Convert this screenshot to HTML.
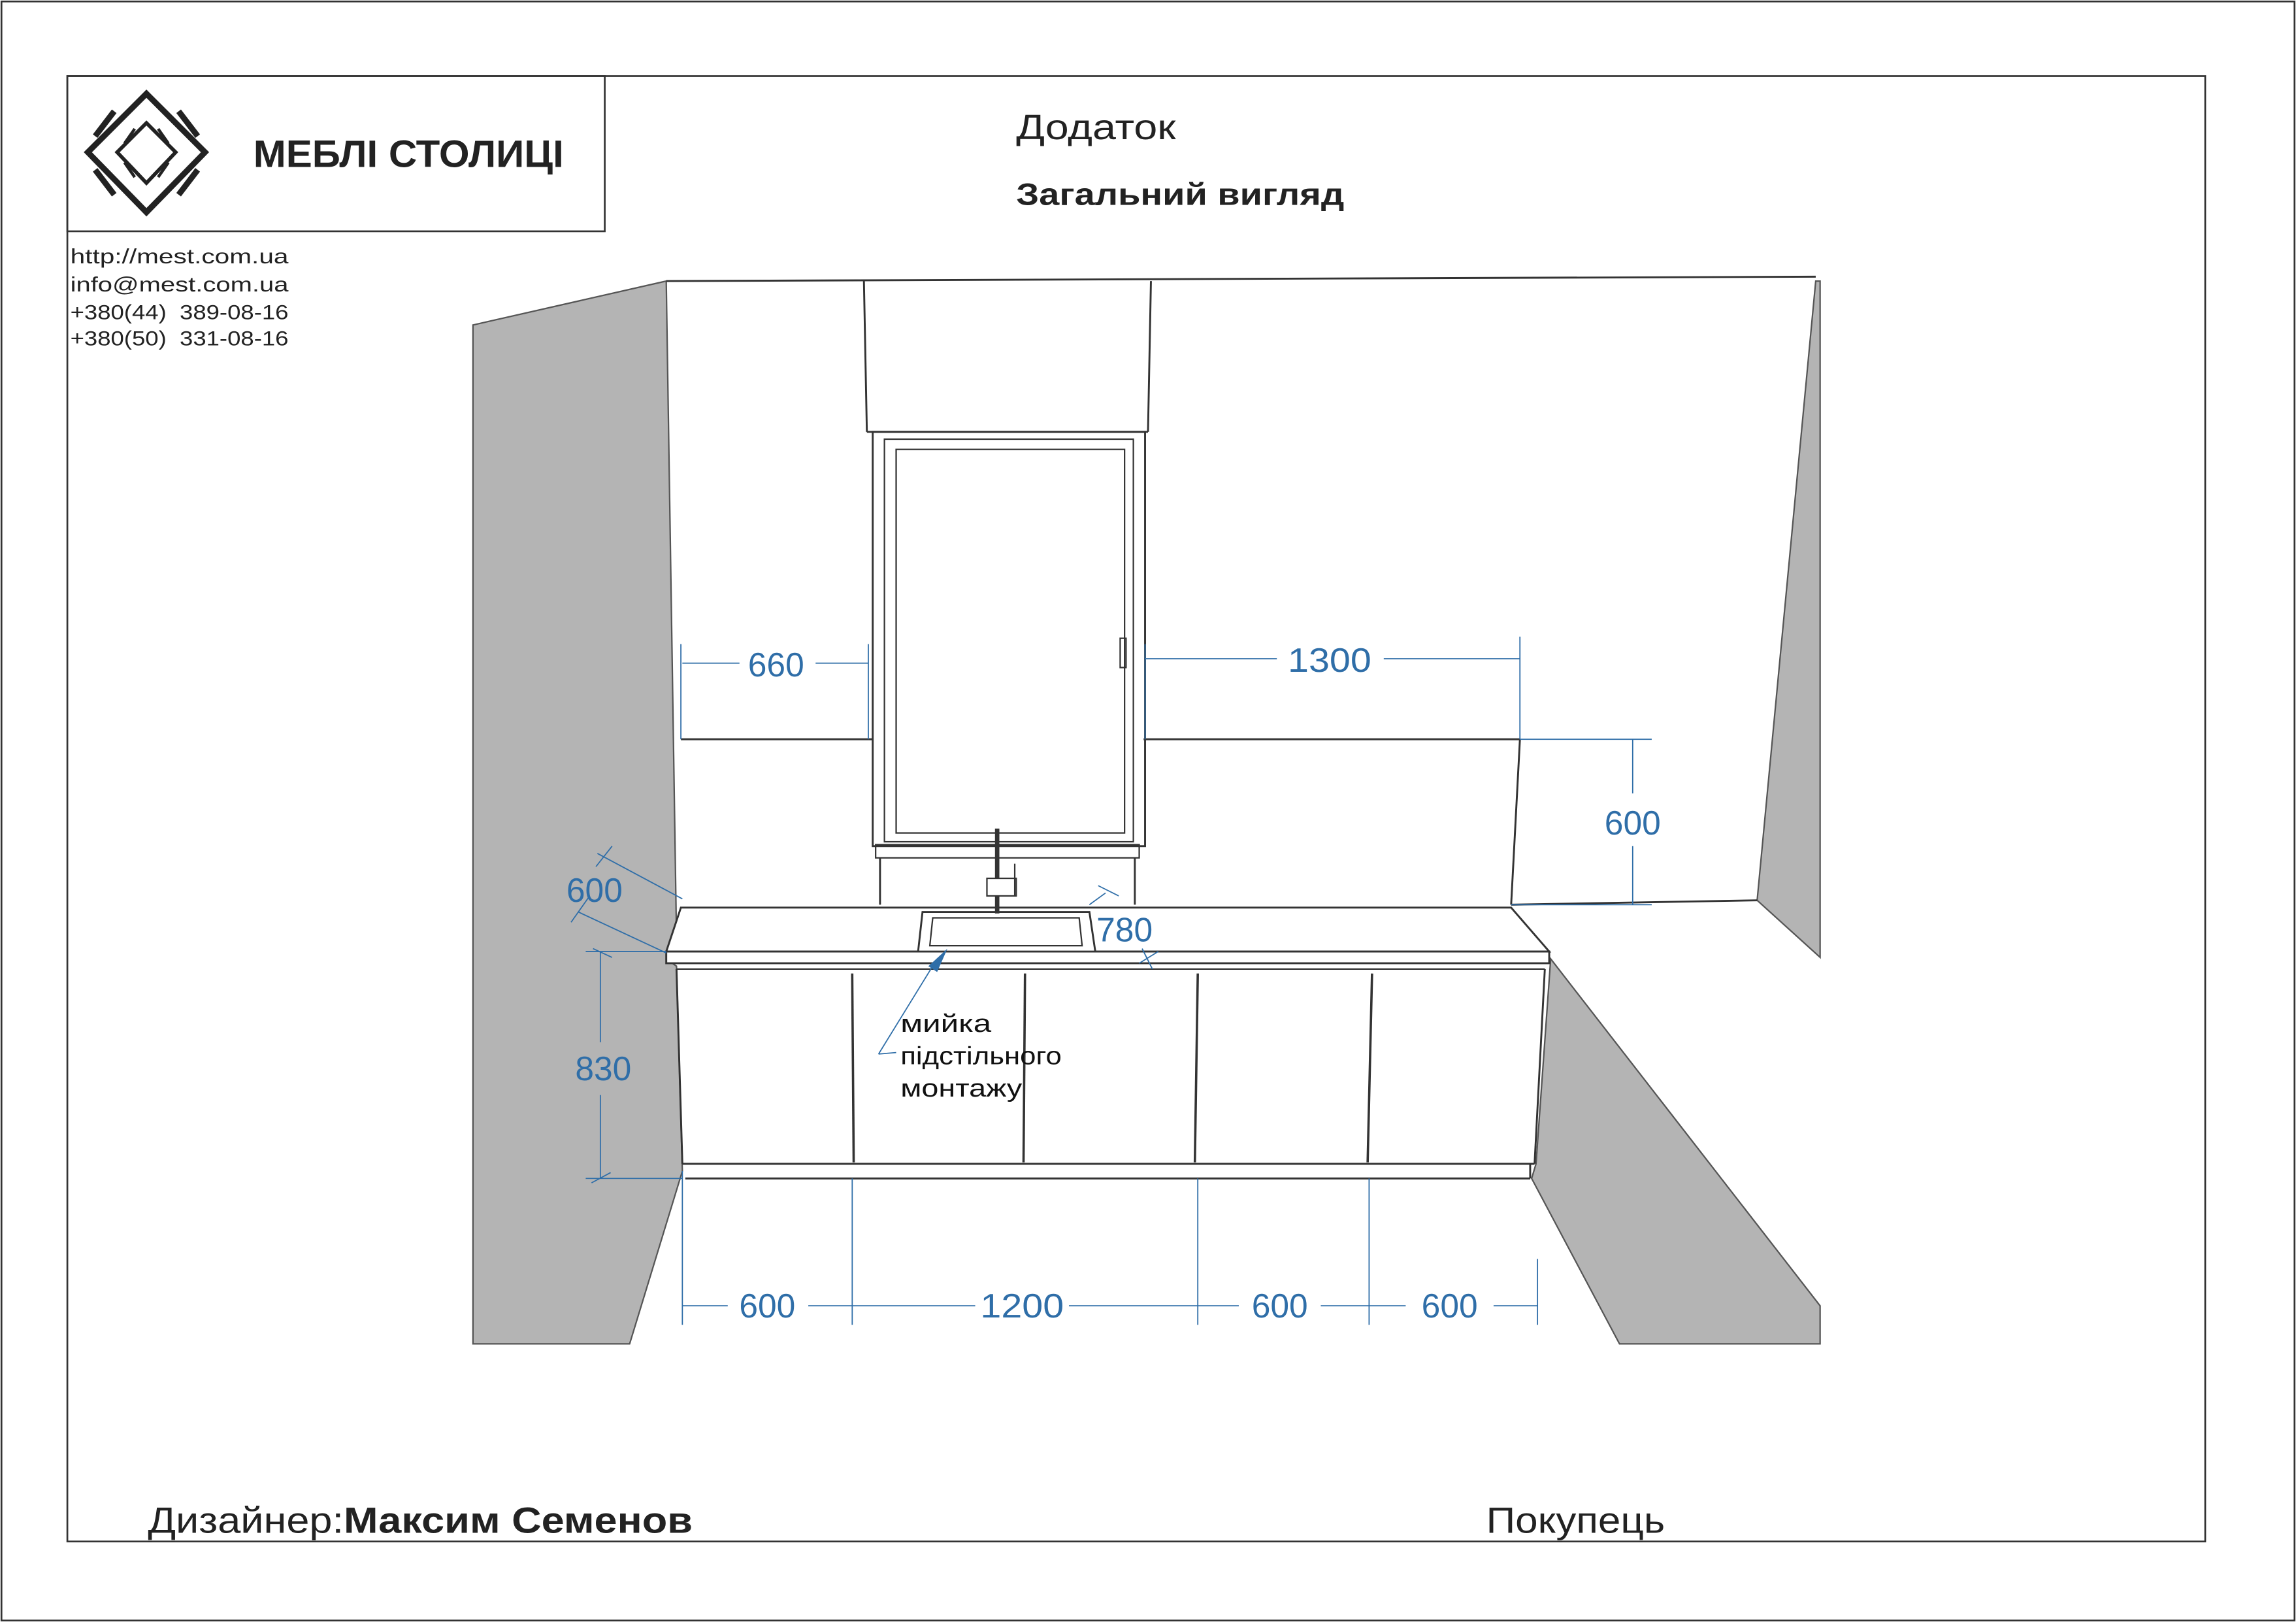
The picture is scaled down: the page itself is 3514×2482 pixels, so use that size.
<!DOCTYPE html>
<html><head><meta charset="utf-8"><style>
html,body{margin:0;padding:0;background:#fff;}
svg{display:block;}
text{font-family:"Liberation Sans","DejaVu Sans",sans-serif;}
</style></head><body>
<svg width="3514" height="2482" viewBox="0 0 1568 1108" preserveAspectRatio="none" xmlns="http://www.w3.org/2000/svg">
<rect x="0" y="0" width="1568" height="1108" fill="#fff"/>
<rect x="1" y="1" width="1566" height="1106" fill="none" stroke="#333" stroke-width="1.2"/>
<rect x="46" y="52" width="1460" height="1001" fill="none" stroke="#333" stroke-width="1.2"/>
<rect x="46" y="52" width="367" height="106" fill="none" stroke="#333" stroke-width="1.2"/>
<!-- logo -->
<g fill="none" stroke="#222">
<polygon points="100,64 140,104 100,145 60,104" stroke-width="4"/>
<polygon points="100,84 120,104 100,125 80,104" stroke-width="2.5"/>
<line x1="78" y1="76" x2="65" y2="93" stroke-width="4"/>
<line x1="122" y1="76" x2="135" y2="93" stroke-width="4"/>
<line x1="78" y1="133" x2="65" y2="116" stroke-width="4"/>
<line x1="122" y1="133" x2="135" y2="116" stroke-width="4"/>
<line x1="92" y1="88" x2="85" y2="98" stroke-width="2"/>
<line x1="108" y1="88" x2="115" y2="98" stroke-width="2"/>
<line x1="92" y1="121" x2="85" y2="111" stroke-width="2"/>
<line x1="108" y1="121" x2="115" y2="111" stroke-width="2"/>
</g>
<text x="173" y="114" font-size="26" font-weight="bold" fill="#222" textLength="212" lengthAdjust="spacingAndGlyphs">МЕБЛІ СТОЛИЦІ</text>
<!-- header -->
<text x="694" y="95" font-size="24" fill="#222" textLength="109" lengthAdjust="spacingAndGlyphs">Додаток</text>
<text x="694" y="140" font-size="21" font-weight="bold" fill="#222" textLength="224" lengthAdjust="spacingAndGlyphs">Загальний вигляд</text>
<g font-size="14" fill="#222">
<text x="48" y="180" textLength="149" lengthAdjust="spacingAndGlyphs">http://mest.com.ua</text>
<text x="48" y="199" textLength="149" lengthAdjust="spacingAndGlyphs">info@mest.com.ua</text>
<text x="48" y="218" textLength="149" lengthAdjust="spacingAndGlyphs">+380(44)&#160;&#160;389-08-16</text>
<text x="48" y="236" textLength="149" lengthAdjust="spacingAndGlyphs">+380(50)&#160;&#160;331-08-16</text>
</g>
<!-- walls -->
<polygon points="323,222 455,192 462,640 455,655 462,660 466,800 430,918 323,918" fill="#b4b4b4" stroke="#555" stroke-width="1"/>
<polygon points="1243,192 1240,192 1200,615 1243,654" fill="#b4b4b4" stroke="#555" stroke-width="1"/>
<polygon points="1059,655 1243,892 1243,918 1106,918 1046,805 1049,795" fill="#b4b4b4" stroke="#555" stroke-width="1"/>
<!-- upper panels -->
<g fill="none" stroke="#333" stroke-width="1.3">
<line x1="455" y1="192" x2="1240" y2="189"/>
<line x1="590" y1="192" x2="592" y2="295"/>
<line x1="786" y1="192" x2="784" y2="295"/>
<line x1="592" y1="295" x2="784" y2="295"/>
<line x1="465" y1="505" x2="596" y2="505"/>
<line x1="781" y1="505" x2="1038" y2="505"/>
<line x1="1038" y1="505" x2="1032" y2="618"/>
<line x1="1032" y1="618" x2="1200" y2="615"/>
<!-- window -->
<rect x="596" y="295" width="186" height="283"/>
<rect x="604" y="300" width="170" height="275" stroke-width="1"/>
<rect x="612" y="307" width="156" height="262" stroke-width="1"/>
<rect x="765" y="436" width="4" height="20" stroke-width="1"/>
<rect x="598" y="577" width="180" height="9" stroke-width="1"/>
<line x1="601" y1="586" x2="601" y2="618"/>
<line x1="775" y1="586" x2="775" y2="618"/>
<!-- countertop -->
<polygon points="465,620 1032,620 1058,650 455,650" fill="#fff"/>
<rect x="455" y="650" width="603" height="8" fill="#fff"/>
<line x1="462" y1="662" x2="1055" y2="662" stroke-width="1"/>
<!-- sink -->
<polygon points="630,623 744,623 748,650 627,650" fill="#fff"/>
<polygon points="637,627 737,627 739,646 635,646" stroke-width="1"/>
<!-- faucet -->
<line x1="681" y1="566" x2="681" y2="624" stroke-width="3"/>
<rect x="674" y="600" width="20" height="12" fill="#fff" stroke-width="1"/>
<line x1="693" y1="590" x2="693" y2="612" stroke-width="1"/>
<!-- cabinets -->
<line x1="462" y1="662" x2="466" y2="795"/>
<line x1="1055" y1="662" x2="1048" y2="795"/>
<line x1="466" y1="795" x2="1048" y2="795"/>
<line x1="582" y1="665" x2="583" y2="794" stroke-width="1.6"/>
<line x1="700" y1="665" x2="699" y2="794" stroke-width="1.6"/>
<line x1="818" y1="665" x2="816" y2="794" stroke-width="1.6"/>
<line x1="937" y1="665" x2="934" y2="794" stroke-width="1.6"/>
<line x1="468" y1="805" x2="1045" y2="805"/>
<line x1="1045" y1="795" x2="1045" y2="805"/>
</g>
<!-- dimensions -->
<g stroke="#2f6ea8" stroke-width="0.8" fill="none">
<line x1="465" y1="440" x2="465" y2="505"/><line x1="593" y1="440" x2="593" y2="505"/>
<line x1="466" y1="453" x2="505" y2="453"/><line x1="557" y1="453" x2="593" y2="453"/>
<line x1="782" y1="440" x2="782" y2="505"/><line x1="1038" y1="435" x2="1038" y2="505"/>
<line x1="782" y1="450" x2="872" y2="450"/><line x1="945" y1="450" x2="1038" y2="450"/>
<line x1="1038" y1="505" x2="1128" y2="505"/><line x1="1032" y1="618" x2="1128" y2="618"/>
<line x1="1115" y1="505" x2="1115" y2="542"/><line x1="1115" y1="578" x2="1115" y2="618"/>
<line x1="408" y1="583" x2="466" y2="614"/><line x1="395" y1="623" x2="455" y2="651"/>
<line x1="418" y1="578" x2="407" y2="592"/><line x1="390" y1="630" x2="402" y2="613"/>
<line x1="400" y1="650" x2="455" y2="650"/><line x1="400" y1="805" x2="466" y2="805"/>
<line x1="410" y1="650" x2="410" y2="712"/><line x1="410" y1="748" x2="410" y2="805"/>
<line x1="405" y1="648" x2="418" y2="654"/><line x1="404" y1="808" x2="417" y2="801"/>
<line x1="750" y1="605" x2="764" y2="612"/><line x1="755" y1="610" x2="744" y2="618"/>
<line x1="780" y1="648" x2="787" y2="662"/><line x1="778" y1="658" x2="791" y2="650"/>
<line x1="466" y1="800" x2="466" y2="905"/><line x1="582" y1="805" x2="582" y2="905"/>
<line x1="818" y1="805" x2="818" y2="905"/><line x1="935" y1="805" x2="935" y2="905"/>
<line x1="1050" y1="860" x2="1050" y2="905"/>
<line x1="466" y1="892" x2="497" y2="892"/><line x1="552" y1="892" x2="666" y2="892"/>
<line x1="730" y1="892" x2="846" y2="892"/><line x1="902" y1="892" x2="960" y2="892"/>
<line x1="1020" y1="892" x2="1050" y2="892"/>
<line x1="600" y1="720" x2="640" y2="655"/><line x1="600" y1="720" x2="612" y2="719"/>
</g>
<polygon points="647,648 634,660 640,664" fill="#2f6ea8"/>
<g font-size="23" fill="#2f6ea8" text-anchor="middle">
<text x="530" y="462">660</text>
<text x="908" y="459" textLength="57" lengthAdjust="spacingAndGlyphs">1300</text>
<text x="1115" y="570">600</text>
<text x="406" y="616">600</text>
<text x="768" y="643">780</text>
<text x="412" y="738">830</text>
<text x="524" y="900">600</text>
<text x="698" y="900" textLength="57" lengthAdjust="spacingAndGlyphs">1200</text>
<text x="874" y="900">600</text>
<text x="990" y="900">600</text>
</g>
<g font-size="17" fill="#111">
<text x="615" y="705" textLength="62" lengthAdjust="spacingAndGlyphs">мийка</text>
<text x="615" y="727" textLength="110" lengthAdjust="spacingAndGlyphs">підстільного</text>
<text x="615" y="749" textLength="83" lengthAdjust="spacingAndGlyphs">монтажу</text>
</g>
<!-- footer -->
<text x="101" y="1047" font-size="25" fill="#222" textLength="372" lengthAdjust="spacingAndGlyphs">Дизайнер:<tspan font-weight="bold">Максим Семенов</tspan></text>
<text x="1015" y="1047" font-size="25" fill="#222" textLength="122" lengthAdjust="spacingAndGlyphs">Покупець</text>
</svg>
</body></html>
